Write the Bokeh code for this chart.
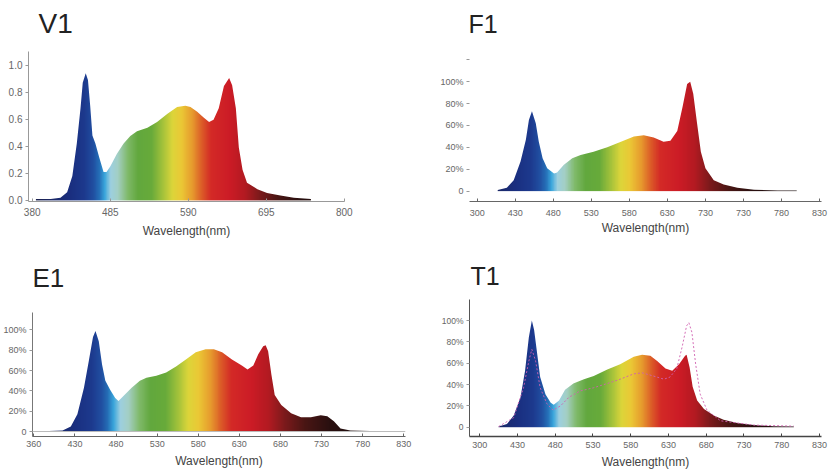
import numpy as np
from bokeh.plotting import figure
from bokeh.layouts import column, row
from bokeh.models import FixedTicker, Range1d, Span, Title, LinearAxis
from bokeh.embed import file_html
from bokeh.resources import INLINE

# ---------------- data ----------------
v1_wl = [385, 405, 418, 427, 434, 440, 445, 448, 452, 455, 458, 461, 465, 470, 476, 480,
         485, 494, 503, 512, 521, 535, 548, 562, 575, 586, 593, 602, 611, 618, 624, 631,
         638, 645, 649, 654, 658, 663, 669, 683, 696, 714, 732, 755]
v1_val = [0.01, 0.01, 0.02, 0.06, 0.18, 0.42, 0.68, 0.87, 0.94, 0.89, 0.70, 0.48, 0.42, 0.32, 0.21, 0.21,
          0.25, 0.345, 0.42, 0.476, 0.51, 0.536, 0.58, 0.64, 0.69, 0.70, 0.69, 0.655, 0.61, 0.58, 0.595, 0.68,
          0.845, 0.905, 0.85, 0.68, 0.39, 0.226, 0.13, 0.083, 0.055, 0.036, 0.02, 0.01]

f1_wl = [407, 419, 428, 437, 444, 448, 452, 457, 461, 466, 472, 481, 485, 494, 505, 516, 533, 551,
         569, 586, 599, 612, 625, 634, 643, 650, 656, 660, 664, 669, 674, 680, 691, 704, 722, 744, 775, 800]
f1_val = [1, 3, 10, 27, 47, 65, 73, 62, 45, 30, 21, 16, 17, 24, 30, 33, 36, 40,
          45, 50, 51, 49, 45, 46, 55, 77, 98, 100, 89, 62, 36, 21, 10, 6, 3, 1.2, 0.6, 0.5]

e1_wl = [381, 415, 425, 433, 441, 447, 452, 455, 459, 463, 467, 473, 479, 483, 489, 499, 509, 517,
         529, 541, 553, 565, 577, 589, 599, 609, 621, 633, 640, 647, 653, 659, 662, 665, 669, 673,
         681, 693, 705, 717, 729, 737, 745, 753, 765, 801]
e1_val = [0, 1, 5, 17, 43, 70, 93, 99, 89, 66, 50, 41, 33, 30, 35, 43, 50, 53,
          55, 58, 64, 71, 78, 81, 81, 78, 71, 65, 61, 65, 76, 84, 85, 79, 56, 36,
          26, 18, 14, 14, 16, 15, 10, 3, 1, 0.3]

t1_wl = [405, 416, 425, 434, 440, 445, 449, 452, 456, 460, 467, 474, 478, 485, 493, 504, 518, 531,
         549, 566, 584, 595, 606, 615, 626, 635, 644, 652, 654, 658, 662, 668, 677, 690, 703, 721,
         743, 769, 796]
t1_val = [0.6, 3, 11, 28, 53, 84, 100, 91, 69, 47, 31, 23, 21, 25, 35, 41, 45, 48,
          54, 59, 66, 68, 67, 62, 55, 53, 59, 67, 68, 56, 38, 25, 17, 11, 7, 4,
          2, 1, 0.6]

t1_ref_wl = [405, 425, 438, 445, 449, 454, 460, 469, 477, 487, 498, 513, 531, 549, 566, 584, 595,
             610, 624, 632, 641, 648, 654, 657, 661, 666, 672, 681, 699, 743, 796]
t1_ref_val = [0.6, 9, 37, 62, 73, 62, 37, 22, 16, 20, 28, 34, 37, 41, 45, 50, 51,
              48, 45, 47, 55, 75, 95, 98, 89, 59, 31, 16, 6, 2, 1]

v1_ticks = [380, 485, 590, 695, 800]
nm_ticks = [380, 430, 480, 530, 580, 630, 680, 730, 780, 830]
f1_tick_text = ["300", "430", "480", "530", "580", "630", "730", "730", "780", "830"]
e1_tick_text = ["360", "430", "480", "530", "580", "630", "680", "730", "780", "830"]
t1_tick_text = ["300", "430", "480", "530", "580", "630", "680", "730", "780", "830"]
v1_yticks = [0.0, 0.2, 0.4, 0.6, 0.8, 1.0]
v1_ytick_text = ["0.0", "0.2", "0.4", "0.6", "0.8", "1.0"]
pct_ticks = [0, 20, 40, 60, 80, 100]
pct_text = ["0", "20%", "40%", "60%", "80%", "100%"]

# ---------------- style: colour ramp for the spectrum ----------------
stop_nm = [380, 410, 430, 450, 462, 470, 477, 485, 495, 508, 522, 540, 556, 568, 580,
           595, 608, 620, 645, 665, 685, 710, 740, 800]
stop_hex = ["#1c1f48", "#1b2a6c", "#1a2f80", "#1d3a8e", "#2150a2", "#2670b8", "#3aa6dc",
            "#9dcfe0", "#a4cfc4", "#80ba6a", "#62a83e", "#68ab3a", "#a8c43a", "#ddd63a",
            "#ebc936", "#e79a2e", "#dc5a28", "#d42a26", "#cc1c26", "#b41a22", "#7c1a1c",
            "#4a1614", "#2a1010", "#1a0e0e"]
stop_rgb = np.array([[int(h[i:i + 2], 16) for i in (1, 3, 5)] for h in stop_hex], dtype=float)

FONT = "Liberation Sans"


def spectrum_fill(p, wl, val):
    x0, x1 = wl[0], wl[-1]
    top = max(val) * 1.05
    ncol = 700
    xs = np.linspace(x0, x1, ncol)
    img = np.empty((1, ncol), dtype=np.uint32)
    view = img.view(dtype=np.uint8).reshape((1, ncol, 4))
    for c in range(3):
        view[0, :, c] = np.interp(xs, stop_nm, stop_rgb[:, c]).astype(np.uint8)
    view[0, :, 3] = 255
    p.image_rgba(image=[img], x=x0, y=0, dw=x1 - x0, dh=top)
    pad = 6
    mx = [x0 - pad, x0 - pad] + list(wl) + [x1 + pad, x1 + pad]
    my = [top * 1.4, val[0]] + list(val) + [val[-1], top * 1.4]
    p.patch(mx, my, fill_color="white", line_color=None)


def base_fig(width, height, xr, yr, bl, br, bt, bb):
    p = figure(width=width, height=height, x_range=Range1d(*xr), y_range=Range1d(*yr),
               output_backend="svg", toolbar_location=None, title=None,
               min_border_left=bl, min_border_right=br, min_border_top=bt, min_border_bottom=bb)
    p.outline_line_color = None
    p.xgrid.grid_line_color = None
    p.ygrid.grid_line_color = None
    for ax in (p.xaxis[0], p.yaxis[0]):
        ax.minor_tick_line_color = None
        ax.major_label_text_font = FONT
        ax.axis_label_text_font = FONT
        ax.axis_label_text_font_style = "normal"
    return p


def add_title(p, text, offset, gap, size):
    spacer = LinearAxis(ticker=FixedTicker(ticks=[600]), major_label_overrides={600: ""},
                        axis_line_color=None, major_tick_line_color=None,
                        minor_tick_line_color=None, major_tick_in=0, major_tick_out=gap,
                        minor_tick_out=0, major_label_standoff=0)
    p.add_layout(spacer, "above")
    p.add_layout(Title(text=text, align="left", offset=offset, text_font=FONT,
                       text_font_size=size, text_font_style="normal",
                       text_color="#222222"), "above")


def style_x(p, ticks, labels, color, width, lab_size, standoff, al_standoff):
    ax = p.xaxis[0]
    ax.ticker = FixedTicker(ticks=ticks)
    ax.major_label_overrides = {t: s for t, s in zip(ticks, labels)}
    ax.axis_line_color = color
    ax.axis_line_width = width
    ax.major_tick_line_color = color
    ax.major_tick_in = 3
    ax.major_tick_out = 0
    ax.major_label_text_font_size = lab_size
    ax.major_label_text_color = "#666666"
    ax.major_label_standoff = standoff
    ax.axis_label = "Wavelength(nm)"
    ax.axis_label_text_font_size = "12px"
    ax.axis_label_text_color = "#444444"
    ax.axis_label_standoff = al_standoff


def style_y(p, ticks, labels, line_color, lab_size):
    ax = p.yaxis[0]
    ax.ticker = FixedTicker(ticks=ticks)
    ax.major_label_overrides = {t: s for t, s in zip(ticks, labels)}
    ax.axis_line_color = line_color
    ax.major_tick_line_color = "#999999"
    ax.major_tick_in = 0
    ax.major_tick_out = 3
    ax.major_label_text_font_size = lab_size
    ax.major_label_text_color = "#666666"
    ax.major_label_standoff = 3


# ---------------- V1 (page x 0..420, y 0..240) ----------------
v1 = base_fig(420, 240, (375.0, 800.2), (-0.008, 1.1), 28, 76, 50, 36)
spectrum_fill(v1, v1_wl, v1_val)
style_x(v1, v1_ticks, [str(t) for t in v1_ticks], "#999999", 1, "10px", 6, 5)
style_y(v1, v1_yticks, v1_ytick_text, "#999999", "10px")
add_title(v1, "V1", 10, 8, "28px")

# ---------------- F1 (page x 420..829, y 0..240) ----------------
f1 = base_fig(409, 240, (369.9, 832.6), (-9.5, 127.6), 49, 8, 50, 36)
spectrum_fill(f1, f1_wl, f1_val)
style_x(f1, nm_ticks, f1_tick_text, "#666666", 1, "9px", 8, 2)
style_y(f1, pct_ticks + [120], pct_text + [""], None, "9px")
add_title(f1, "F1", -1, 9, "25px")

# ---------------- E1 (page x 0..420, y 240..472) ----------------
e1 = base_fig(420, 232, (378.4, 832.1), (-4.9, 130.0), 28, 15, 59, 36)
e1.yaxis[0].bounds = (-4.9, 117.2)
e1.add_layout(Span(location=0, dimension="width", line_color="#bbbbbb", line_width=1))
spectrum_fill(e1, e1_wl, e1_val)
style_x(e1, nm_ticks, e1_tick_text, "#666666", 1, "9px", 4, 4)
style_y(e1, pct_ticks, pct_text, "#777777", "9px")
add_title(e1, "E1", 0, 2, "26px")

# ---------------- T1 (page x 420..829, y 240..472) ----------------
t1 = base_fig(409, 232, (366.4, 832.7), (-8.7, 119.7), 49, 8, 59, 36)
spectrum_fill(t1, t1_wl, t1_val)
t1.line(t1_ref_wl, t1_ref_val, line_color="#d060b0", line_width=1, line_dash="2 2", line_alpha=0.9)
style_x(t1, nm_ticks, t1_tick_text, "#444444", 1.5, "9px", 5, 4)
style_y(t1, pct_ticks, pct_text, "#555555", "8.5px")
add_title(t1, "T1", 1, 5, "25px")

layout = column(row(v1, f1), row(e1, t1))
open("out.html", "w").write(file_html(layout, INLINE))
